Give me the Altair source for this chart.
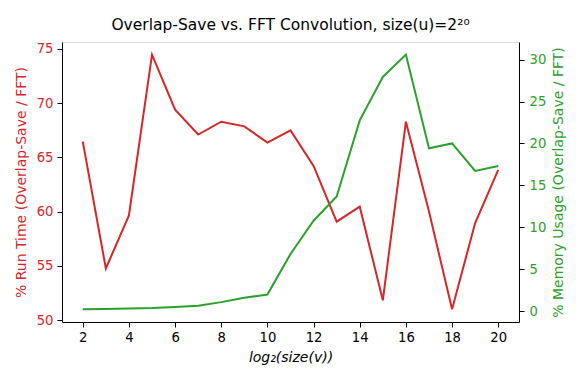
import altair as alt
import pandas as pd

log2_v = list(range(2, 21))
run_time = [66.44, 54.76, 59.65, 74.45, 69.38, 67.1, 68.28, 67.85, 66.35, 67.48,
            64.2, 59.07, 60.45, 51.83, 68.28, 60.0, 51.0, 58.95, 63.84]
memory = [0.22, 0.24, 0.32, 0.36, 0.48, 0.64, 1.07, 1.59, 1.98, 6.82,
          10.78, 13.67, 22.75, 27.93, 30.6, 19.42, 20.0, 16.72, 17.3]

df = pd.DataFrame({"x": log2_v, "run": run_time, "mem": memory})

RED = "#d62728"
GREEN = "#2ca02c"
FONT = "DejaVu Sans"
LBL = 13.2
TTL = 14

xenc = alt.X("x:Q", scale=alt.Scale(domain=[1.1, 20.9], nice=False, zero=False),
             axis=alt.Axis(values=list(range(2, 21, 2)), title="log₂(size(v))",
                           titleFontStyle="italic", titleFontWeight="normal",
                           titleFontSize=TTL, titleColor="black", titlePadding=7,
                           labelFontSize=LBL, labelColor="black", labelPadding=4,
                           tickSize=5, tickColor="black", domainColor="black",
                           grid=False, labelFont=FONT, titleFont=FONT))

base = alt.Chart(df)

red = base.mark_line(color=RED, strokeWidth=2).encode(
    x=xenc,
    y=alt.Y("run:Q", scale=alt.Scale(domain=[49.83, 75.62], nice=False, zero=False),
            axis=alt.Axis(values=[50, 55, 60, 65, 70, 75], orient="left",
                          title="% Run Time (Overlap-Save / FFT)",
                          titleColor=RED, labelColor=RED, titleFontWeight="normal",
                          titleFontSize=TTL, labelFontSize=LBL, labelPadding=4,
                          tickSize=5, tickColor="black", domainColor="black",
                          grid=False, labelFont=FONT, titleFont=FONT, titlePadding=8)),
)

green = base.mark_line(color=GREEN, strokeWidth=2).encode(
    x=xenc,
    y=alt.Y("mem:Q", scale=alt.Scale(domain=[-1.3, 32.1], nice=False, zero=False),
            axis=alt.Axis(values=[0, 5, 10, 15, 20, 25, 30], orient="right",
                          title="% Memory Usage (Overlap-Save / FFT)",
                          titleAngle=270, titleBaseline="top",
                          titleColor=GREEN, labelColor=GREEN, titleFontWeight="normal",
                          titleFontSize=TTL, labelFontSize=LBL, labelPadding=5,
                          tickSize=5, tickColor="black", domainColor="black",
                          grid=False, labelFont=FONT, titleFont=FONT, titlePadding=6)),
)

chart = alt.layer(red, green).resolve_scale(y="independent").properties(
    width=457, height=280,
    title=alt.TitleParams("Overlap-Save vs. FFT Convolution, size(u)=2²⁰",
                          fontSize=15.5, fontWeight="normal", font=FONT,
                          anchor="middle", offset=8, color="black"),
    autosize=alt.AutoSizeParams(type="none"),
    padding={"left": 54, "top": 34, "right": 54, "bottom": 54},
).configure_view(stroke="black", strokeWidth=1).configure(background="white")

chart.save("out.html", embed_options={"renderer": "svg", "actions": False})
